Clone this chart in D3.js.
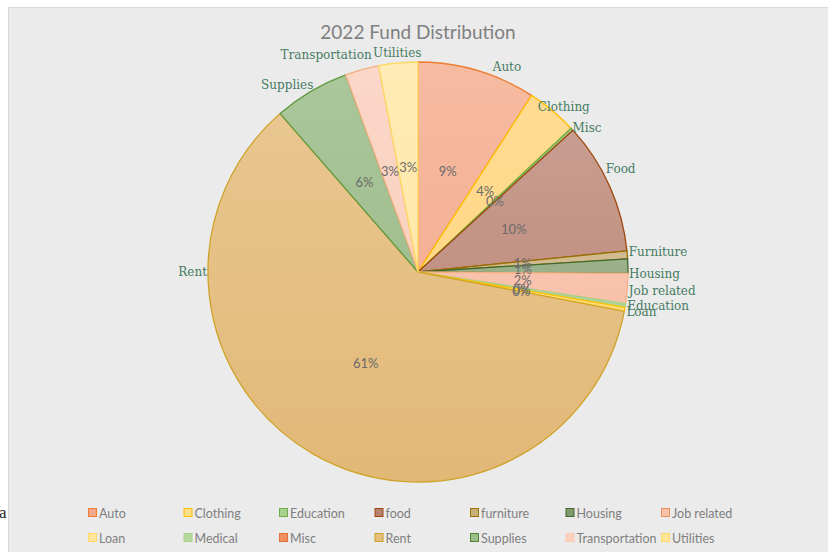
<!DOCTYPE html>
<html>
<head>
<meta charset="utf-8">
<script src="https://cdn.jsdelivr.net/npm/d3@7"></script>
<style>
  body { margin: 0; background: #fff; }
  svg { display: block; }
</style>
</head>
<body>
<svg id="chart" width="828" height="552"></svg>
<script>
// slices in the order the pie draws them (clockwise from 12 o'clock)
const sliceLabels = ["Auto", "Clothing", "Misc", "Food", "Furniture", "Housing", "Job related",
                     "Education", "Loan", "Rent", "Supplies", "Transportation", "Utilities"];
const sliceValues = [9.1, 3.9, 0.2, 10.2, 0.6, 1.1, 2.3, 0.3, 0.3, 60.6, 5.8, 2.6, 3.0];

// legend entries (as shown under the chart)
const legendLabels = ["Auto", "Clothing", "Education", "food", "furniture", "Housing", "Job related",
                      "Loan", "Medical", "Misc", "Rent", "Supplies", "Transportation", "Utilities"];

const chartTitle = "2022 Fund Distribution";

// styles
const sliceTop    = ["#f6bba1", "#ffdc94", "#a9d18e", "#cba295", "#d8c39d", "#a3b895", "#fac8b4",
                     "#b4d89c", "#ffe08a", "#e9c893", "#abc79c", "#fbd7c8", "#ffebb5"];
const sliceBottom = ["#f2a688", "#ffd27a", "#a9d18e", "#b98272", "#cbb182", "#8fa87d", "#f7bca4",
                     "#a9d18e", "#ffd966", "#e2b877", "#95b684", "#f8cbb6", "#ffe49d"];
const sliceStroke = ["#ed7d31", "#ffc000", "#70ad47", "#9e480e", "#997300", "#43682b", "#f4b183",
                     "#a9d18e", "#ffc000", "#cfa32a", "#5f9a3c", "#f4b183", "#ffd966"];
const legendFill   = ["#f4a688", "#ffe08a", "#a9d18e", "#b8806e", "#c9b07a", "#7f9a6c", "#f8c1a8",
                      "#ffe699", "#b5d99c", "#f09060", "#e6c07a", "#9cbf89", "#fbd0bd", "#ffe699"];
const legendStroke = ["#ed7d31", "#ffc000", "#70ad47", "#9e480e", "#997300", "#43682b", "#f08e5a",
                      "#ffd966", "#a9d18e", "#e2703a", "#c9a227", "#548235", "#f8cbad", "#ffd966"];

// where Excel moved some category labels: [angle in degrees, distance of label centre or null]
const labelPlace = {
  "Auto": [23.5, null], "Clothing": [41.5, 220], "Misc": [49.6, 222], "Food": [63, null],
  "Housing": [90.5, null], "Education": [98, null], "Rent": [270, null],
  "Supplies": [325, 228], "Transportation": [337, null]
};

const svg = d3.select("#chart");
const cx = 418, cy = 272, r = 210;

// chart area
svg.append("text")
  .attr("x", -1).attr("y", 518)
  .attr("font-family", "Liberation Serif").attr("font-size", 17)
  .attr("fill", "#222").text("a");
svg.append("rect")
  .attr("x", 8.5).attr("y", 7.5).attr("width", 830).attr("height", 560)
  .attr("fill", "#ebebeb").attr("stroke", "#d9d9d9");

svg.append("text")
  .attr("x", 418).attr("y", 39)
  .attr("text-anchor", "middle")
  .attr("font-family", "Lato").attr("font-size", 19)
  .attr("fill", "#808080")
  .text(chartTitle);

const data = sliceLabels.map((name, i) => ({ name, value: sliceValues[i], i }));
const total = d3.sum(sliceValues);

const defs = svg.append("defs");
data.forEach(d => {
  const lg = defs.append("linearGradient")
    .attr("id", "grad" + d.i)
    .attr("gradientUnits", "userSpaceOnUse")
    .attr("x1", 0).attr("y1", -r).attr("x2", 0).attr("y2", r);
  lg.append("stop").attr("offset", "0%").attr("stop-color", sliceTop[d.i]);
  lg.append("stop").attr("offset", "100%").attr("stop-color", sliceBottom[d.i]);
});

const pie = d3.pie().sort(null).value(d => d.value);
const arcs = pie(data);
const arc = d3.arc().innerRadius(0).outerRadius(r);

const g = svg.append("g").attr("transform", `translate(${cx},${cy})`);

g.selectAll("path.slice")
  .data(arcs)
  .join("path")
  .attr("class", "slice")
  .attr("d", arc)
  .attr("fill", d => `url(#grad${d.data.i})`)
  .attr("stroke", d => sliceStroke[d.data.i])
  .attr("stroke-width", 1.3)
  .attr("stroke-linejoin", "round");

// percentage labels at half radius
const pctR = 105;
g.selectAll("text.pct")
  .data(arcs)
  .join("text")
  .attr("class", "pct")
  .attr("x", d => pctR * Math.sin((d.startAngle + d.endAngle) / 2))
  .attr("y", d => -pctR * Math.cos((d.startAngle + d.endAngle) / 2))
  .attr("text-anchor", "middle")
  .attr("dominant-baseline", "central")
  .attr("font-family", "Lato").attr("font-size", 13)
  .attr("fill", "#6b6b6b")
  .text(d => Math.round(d.data.value / total * 100) + "%");

// category labels outside the pie
const cat = g.selectAll("text.cat")
  .data(arcs)
  .join("text")
  .attr("class", "cat")
  .attr("text-anchor", "middle")
  .attr("dominant-baseline", "central")
  .attr("font-family", "DejaVu Serif").attr("font-size", 12)
  .attr("fill", "#467b62")
  .text(d => d.data.name);

cat.each(function(d) {
  const p = labelPlace[d.data.name];
  const a = p ? p[0] * Math.PI / 180 : (d.startAngle + d.endAngle) / 2;
  const hw = this.getComputedTextLength() / 2, hh = 7;
  const s = Math.sin(a), c = Math.cos(a);
  const dist = p && p[1] ? p[1] : r + 1 + hw * Math.abs(s) + hh * Math.abs(c);
  d3.select(this).attr("x", dist * s).attr("y", -dist * c);
});

// legend
const legend = svg.append("g");
const colW = 95.5;
const items = legend.selectAll("g")
  .data(legendLabels)
  .join("g")
  .attr("transform", (d, i) => `translate(${88 + (i % 7) * colW},${513 + Math.floor(i / 7) * 25})`);
items.append("rect")
  .attr("x", 0.5).attr("y", -4.5).attr("width", 8).attr("height", 8)
  .attr("fill", (d, i) => legendFill[i])
  .attr("stroke", (d, i) => legendStroke[i]);
items.append("text")
  .attr("x", 11).attr("y", 0)
  .attr("dominant-baseline", "central")
  .attr("font-family", "Lato").attr("font-size", 12.5)
  .attr("fill", "#7f7f7f")
  .text(d => d);
</script>
</body>
</html>
